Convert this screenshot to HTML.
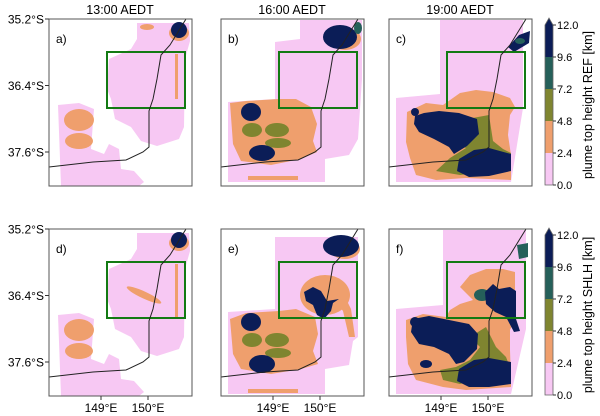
<!DOCTYPE html>
<html><head><meta charset="utf-8">
<style>
html,body{margin:0;padding:0;background:#fff;}
svg{display:block;font-family:"Liberation Sans","DejaVu Sans",sans-serif;}
</style></head>
<body>
<svg id="fig" width="600" height="416" viewBox="0 0 600 416" xmlns="http://www.w3.org/2000/svg">
<defs>
<clipPath id="pc"><rect x="0" y="0" width="143" height="167"/></clipPath>
<g id="coast"><polyline points="137,0 121,26 112,36 108,60 104,80 100,92 100,128 94,133 77,141 44,143 0,148" fill="none" stroke="#222" stroke-width="1"/></g>
<g id="box"><rect x="58" y="33" width="78" height="56" fill="none" stroke="#137a13" stroke-width="2"/></g>
</defs>

<!-- titles -->
<text x="120" y="14" font-size="12.5" text-anchor="middle">13:00 AEDT</text>
<text x="292" y="14" font-size="12.5" text-anchor="middle">16:00 AEDT</text>
<text x="460" y="14" font-size="12.5" text-anchor="middle">19:00 AEDT</text>

<!-- Panel a -->
<g transform="translate(49,19)">
 <g clip-path="url(#pc)">
  <polygon fill="#f7c8f3" points="88,4 140,4 141,22 136,40 135,108 130,120 108,127 92,122 82,108 66,100 62,80 58,70 60,40 82,30 88,20"/>
  <polygon fill="#f7c8f3" points="9,86 30,84 45,90 42,130 55,135 60,125 70,130 72,150 85,152 95,163 90,167 12,167"/>
  <ellipse cx="30" cy="101" rx="15" ry="11" fill="#ef9f6d"/>
  <ellipse cx="30" cy="122" rx="14" ry="8" fill="#ef9f6d"/>
  <ellipse cx="98" cy="8" rx="7" ry="3" fill="#ef9f6d"/>
  <ellipse cx="130" cy="14" rx="10" ry="8" fill="#ef9f6d"/>
  <rect x="126" y="35" width="3" height="45" fill="#ef9f6d"/>
  <circle cx="130" cy="11" r="8" fill="#0b1d57"/>
 </g>
 <use href="#box"/><use href="#coast" clip-path="url(#pc)"/>
 <rect width="143" height="167" fill="none" stroke="#555" stroke-width="1"/>
 <text x="7" y="24" font-size="12">a)</text>
</g>

<!-- Panel b -->
<g transform="translate(221,19)">
 <g clip-path="url(#pc)">
  <polygon fill="#f7c8f3" points="79,1 141,1 141,60 137,120 128,136 104,140 104,163 7,163 7,83 54,80 54,23 79,20"/>
  <polygon fill="#ef9f6d" points="9,84 25,82 58,80 75,80 90,88 96,105 92,122 96,133 80,140 50,146 20,142 12,125"/>
  <rect x="27" y="157" width="50" height="4" fill="#ef9f6d"/>
  <ellipse cx="31" cy="111" rx="10" ry="7" fill="#7f8530"/>
  <ellipse cx="56" cy="111" rx="12" ry="7" fill="#7f8530"/>
  <ellipse cx="57" cy="124" rx="13" ry="5" fill="#7f8530"/>
  <ellipse cx="124" cy="20" rx="16" ry="11" fill="#ef9f6d"/>
  <ellipse cx="119" cy="18" rx="17" ry="12" fill="#0b1d57"/>
  <ellipse cx="137" cy="9" rx="4" ry="6" fill="#25605a"/>
  <ellipse cx="30" cy="93" rx="10" ry="9" fill="#0b1d57"/>
  <ellipse cx="41" cy="134" rx="13" ry="8" fill="#0b1d57"/>
 </g>
 <use href="#box"/><use href="#coast" clip-path="url(#pc)"/>
 <rect width="143" height="167" fill="none" stroke="#555" stroke-width="1"/>
 <text x="7" y="24" font-size="12">b)</text>
</g>

<!-- Panel c -->
<g transform="translate(389,19)">
 <g clip-path="url(#pc)">
  <polygon fill="#f7c8f3" points="51,1 134,1 134,89 122,163 7,163 7,79 51,75"/>
  <polygon fill="#ef9f6d" points="18,93 37,84 54,86 71,74 87,71 104,73 121,79 126,88 121,96 119,116 122,136 122,161 77,159 47,161 27,156 21,139 17,123"/>
  <polygon fill="#7f8530" points="45,106 100,96 104,122 114,130 122,134 122,150 71,156 47,152 61,139 77,129 58,123"/>
  <polygon fill="#0b1d57" points="26,97 35,94 50,92 70,94 88,100 90,115 78,127 65,135 60,128 45,120 30,113 25,105"/>
  <circle cx="26" cy="93" r="4" fill="#0b1d57"/>
  <polygon fill="#0b1d57" points="70,140 85,131 100,129 122,135 122,152 100,157 80,158 68,152"/>
  <polygon fill="#0b1d57" points="119,28 130,16 141,12 140,24 125,33"/>
  <ellipse cx="131" cy="22" rx="5" ry="3" fill="#25605a"/>
 </g>
 <use href="#box"/><use href="#coast" clip-path="url(#pc)"/>
 <rect width="143" height="167" fill="none" stroke="#555" stroke-width="1"/>
 <text x="7" y="24" font-size="12">c)</text>
</g>

<!-- Panel d -->
<g transform="translate(49,229)">
 <g clip-path="url(#pc)">
  <polygon fill="#f7c8f3" points="88,4 140,4 141,22 136,40 135,108 130,120 108,127 92,122 82,108 66,100 62,80 58,70 60,40 82,30 88,20"/>
  <polygon fill="#f7c8f3" points="9,86 30,84 45,90 42,130 55,135 60,125 70,130 72,150 85,152 95,163 90,167 12,167"/>
  <ellipse cx="30" cy="101" rx="15" ry="11" fill="#ef9f6d"/>
  <ellipse cx="30" cy="122" rx="14" ry="8" fill="#ef9f6d"/>
  <ellipse cx="130" cy="14" rx="10" ry="8" fill="#ef9f6d"/>
  <rect x="126" y="35" width="3" height="55" fill="#ef9f6d"/>
  <ellipse cx="95" cy="66" rx="19" ry="3.5" transform="rotate(25 95 66)" fill="#ef9f6d"/>
  <circle cx="130" cy="11" r="8" fill="#0b1d57"/>
 </g>
 <use href="#box"/><use href="#coast" clip-path="url(#pc)"/>
 <rect width="143" height="167" fill="none" stroke="#555" stroke-width="1"/>
 <text x="7" y="24" font-size="12">d)</text>
</g>

<!-- Panel e -->
<g transform="translate(221,229)">
 <g clip-path="url(#pc)">
  <polygon fill="#f7c8f3" points="54,8 137,8 137,108 132,112 128,136 104,140 104,165 7,165 7,83 54,80"/>
  <polygon fill="#ef9f6d" points="9,90 25,84 58,82 75,80 94,88 97,105 92,122 97,135 80,140 50,145 20,140 12,125"/>
  <rect x="27" y="160" width="50" height="4" fill="#ef9f6d"/>
  <ellipse cx="104" cy="66" rx="25" ry="20" fill="#ef9f6d"/>
  <polygon fill="#ef9f6d" points="120,60 130,80 134,108 128,108 122,82 112,70"/>
  <ellipse cx="31" cy="111" rx="10" ry="7" fill="#7f8530"/>
  <ellipse cx="56" cy="111" rx="12" ry="7" fill="#7f8530"/>
  <ellipse cx="57" cy="124" rx="13" ry="5" fill="#7f8530"/>
  <polygon fill="#0b1d57" points="83,63 92,58 100,62 106,72 118,70 112,74 110,82 103,90 96,86 92,76 85,72"/>
  <ellipse cx="124" cy="20" rx="15" ry="10" fill="#ef9f6d"/>
  <ellipse cx="120" cy="17" rx="18" ry="11" fill="#0b1d57"/>
  <ellipse cx="30" cy="93" rx="10" ry="9" fill="#0b1d57"/>
  <ellipse cx="41" cy="135" rx="13" ry="9" fill="#0b1d57"/>
 </g>
 <use href="#box"/><use href="#coast" clip-path="url(#pc)"/>
 <rect width="143" height="167" fill="none" stroke="#555" stroke-width="1"/>
 <text x="7" y="24" font-size="12">e)</text>
</g>

<!-- Panel f -->
<g transform="translate(389,229)">
 <g clip-path="url(#pc)">
  <polygon fill="#f7c8f3" points="54,1 137,1 137,100 122,165 7,165 7,80 54,76"/>
  <polygon fill="#ef9f6d" points="17,91 34,85 57,88 61,81 71,75 84,71 71,58 81,46 97,40 114,40 126,43 126,75 127,88 121,101 121,121 122,151 122,158 77,161 54,158 27,151 19,135 17,108"/>
  <polygon fill="#7f8530" points="81,108 97,98 107,118 117,128 122,141 71,155 54,151 51,141 67,138 81,131 91,118"/>
  <polygon fill="#0b1d57" points="24,90 40,87 60,91 80,95 89,105 88,120 75,133 67,135 60,125 45,118 30,115 22,103"/>
  <circle cx="26" cy="93" r="5" fill="#0b1d57"/>
  <ellipse cx="37" cy="135" rx="6" ry="4" fill="#0b1d57"/>
  <polygon fill="#0b1d57" points="70,140 85,131 100,129 122,133 122,155 100,158 80,158 68,152"/>
  <ellipse cx="93" cy="66" rx="8" ry="6" fill="#25605a"/>
  <polygon fill="#0b1d57" points="96,63 104,55 110,60 121,58 127,62 127,90 131,102 125,103 117,88 106,83 97,75"/>
  <polygon fill="#25605a" points="128,16 139,14 139,28 130,30"/>
 </g>
 <use href="#box"/><use href="#coast" clip-path="url(#pc)"/>
 <rect width="143" height="167" fill="none" stroke="#555" stroke-width="1"/>
 <text x="7" y="24" font-size="12">f)</text>
</g>

<g id="axes"></g>
<g id="cbars"></g>
</svg>
<script>
const latTicks = ["35.2°S", "36.4°S", "37.6°S"];
const latVals = [35.2, 36.4, 37.6];
const lonTicks = ["149°E", "150°E"];
const lonVals = [149, 150];
const cbTicks = ["0.0", "2.4", "4.8", "7.2", "9.6", "12.0"];
const cbVals = [0, 2.4, 4.8, 7.2, 9.6, 12];
const cbColors = ["#f7c8f3", "#ef9f6d", "#7f8530", "#25605a", "#0b1d57"];
const cbLabels = ["plume top height REF [km]", "plume top height SHLH [km]"];

const NS = "http://www.w3.org/2000/svg";
const panelX = [49, 221, 389], rowY = [19, 229];
function yLat(lat, top) { return top + (lat - 35.2) / 1.2 * 66.5; }
function xLon(lon, left) { return left + 52 + (lon - 149) * 47; }
function mk(tag, attrs, parent) { const e = document.createElementNS(NS, tag); for (const k in attrs) e.setAttribute(k, attrs[k]); parent.appendChild(e); return e; }

const ax = document.getElementById('axes');
rowY.forEach((top, r) => {
  latVals.forEach((v, i) => {
    const y = yLat(v, top);
    const tk = mk('line', {x1: 45, x2: 49, y1: y, y2: y, stroke: '#333'}, ax);
    
    
    const t = mk('text', {x: 44, y: y + 4.5, 'font-size': 12, 'text-anchor': 'end'}, ax);
    t.textContent = latTicks[i];
    
    
  });
});
panelX.forEach(left => {
  lonVals.forEach((v, i) => {
    const x = xLon(v, left);
    const tk = mk('line', {x1: x, x2: x, y1: 396, y2: 400, stroke: '#333'}, ax);
    
    
    const t = mk('text', {x: x, y: 412, 'font-size': 12, 'text-anchor': 'middle'}, ax);
    t.textContent = lonTicks[i];
    
    
  });
});

const cb = document.getElementById('cbars');
const cbTop = [25, 235], cbH = 160, cbX = 545, cbW = 8;
function yCb(v, r) { return cbTop[r] + cbH - v / 12 * cbH; }
cbTop.forEach((top, r) => {
  for (let i = 0; i < cbColors.length; i++) {
    const y1 = yCb(cbVals[i + 1], r), y0 = yCb(cbVals[i], r);
    const seg = mk('rect', {x: cbX, y: y1, width: cbW, height: y0 - y1, fill: cbColors[i]}, cb);
    
    
  }
  const ar = mk('polygon', {points: `${cbX},${top} ${cbX + cbW},${top} ${cbX + cbW / 2},${top - 7}`, fill: cbColors[4]}, cb);
  
  
  mk('polygon', {points: `${cbX},${top + cbH} ${cbX},${top} ${cbX + cbW / 2},${top - 7} ${cbX + cbW},${top} ${cbX + cbW},${top + cbH}`, fill: 'none', stroke: '#666', 'stroke-width': 0.8}, cb);
  cbVals.forEach((v, i) => {
    const y = yCb(v, r);
    mk('line', {x1: cbX + cbW, x2: cbX + cbW + 3, y1: y, y2: y, stroke: '#333'}, cb);
    const t = mk('text', {x: cbX + cbW + 4, y: y + 4, 'font-size': 11}, cb);
    t.textContent = cbTicks[i];
    
    
  });
  const cy = top + cbH / 2;
  const lab = mk('text', {x: 0, y: 0, 'font-size': 12.5, 'text-anchor': 'middle', transform: `translate(592,${cy}) rotate(-90)`}, cb);
  lab.textContent = cbLabels[r];
  
  
});
</script>
</body></html>
